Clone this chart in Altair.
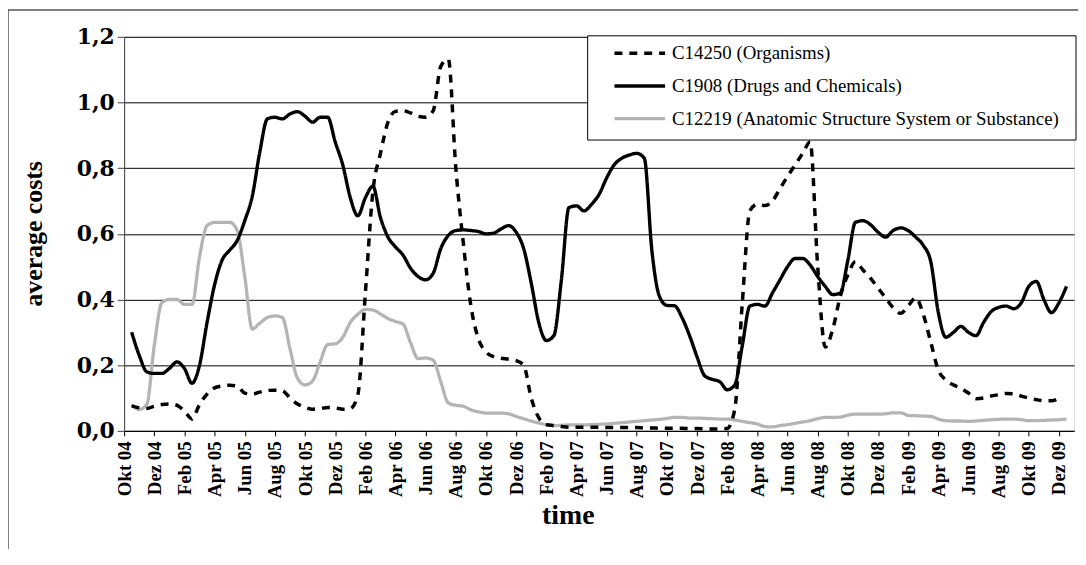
import json
import altair as alt
import pandas as pd

series_names = [
    "C14250 (Organisms)",
    "C1908 (Drugs and Chemicals)",
    "C12219 (Anatomic Structure System or Substance)",
]

tick_labels = [
    "Okt 04", "Dez 04",
    "Feb 05", "Apr 05", "Jun 05", "Aug 05", "Okt 05", "Dez 05",
    "Feb 06", "Apr 06", "Jun 06", "Aug 06", "Okt 06", "Dez 06",
    "Feb 07", "Apr 07", "Jun 07", "Aug 07", "Okt 07", "Dez 07",
    "Feb 08", "Apr 08", "Jun 08", "Aug 08", "Okt 08", "Dez 08",
    "Feb 09", "Apr 09", "Jun 09", "Aug 09", "Okt 09", "Dez 09",
]

# sampling times: half-month steps, in months after Okt 04
months = [0.5 * (i + 1) for i in range(125)]

organisms = [
    0.076, 0.07, 0.068, 0.075, 0.08, 0.082, 0.078, 0.06, 0.036, 0.08,
    0.112, 0.131, 0.137, 0.139, 0.136, 0.115, 0.112, 0.118, 0.123, 0.124,
    0.122, 0.10, 0.082, 0.072, 0.066, 0.068, 0.071, 0.07, 0.066, 0.068,
    0.11, 0.42, 0.73, 0.845, 0.94, 0.973, 0.975, 0.968, 0.958, 0.955,
    0.975, 1.11, 1.132, 0.80, 0.57, 0.38, 0.28, 0.24, 0.226, 0.221,
    0.218, 0.214, 0.20, 0.10, 0.04, 0.019, 0.016, 0.013, 0.011, 0.011,
    0.011, 0.011, 0.011, 0.01, 0.01, 0.01, 0.01, 0.01, 0.009, 0.009,
    0.008, 0.008, 0.008, 0.008, 0.007, 0.007, 0.006, 0.006, 0.006, 0.007,
    0.066, 0.39, 0.67, 0.69, 0.686, 0.70, 0.738, 0.775, 0.81, 0.845,
    0.88, 0.50, 0.255, 0.31, 0.41, 0.475, 0.515, 0.49, 0.465, 0.435,
    0.405, 0.375, 0.358, 0.38, 0.405, 0.355, 0.27, 0.185, 0.155, 0.14,
    0.13, 0.115, 0.098, 0.10, 0.106, 0.11, 0.114, 0.113, 0.106, 0.10,
    0.095, 0.092, 0.092, 0.099, None,
]

drugs = [
    0.30, 0.23, 0.18, 0.175, 0.175, 0.19, 0.21, 0.19, 0.145, 0.20,
    0.33, 0.445, 0.52, 0.55, 0.58, 0.64, 0.715, 0.85, 0.95, 0.955,
    0.95, 0.965, 0.972, 0.958, 0.94, 0.955, 0.955, 0.88, 0.81, 0.71,
    0.655, 0.71, 0.745, 0.65, 0.59, 0.56, 0.535, 0.495, 0.47, 0.46,
    0.48, 0.555, 0.595, 0.61, 0.612, 0.61, 0.607, 0.60, 0.602, 0.615,
    0.625, 0.605, 0.555, 0.45, 0.33, 0.275, 0.29, 0.46, 0.68, 0.685,
    0.67, 0.69, 0.72, 0.77, 0.81, 0.83, 0.84, 0.845, 0.83, 0.55,
    0.41, 0.382, 0.381, 0.345, 0.29, 0.225, 0.168, 0.157, 0.15, 0.125,
    0.14, 0.26, 0.38, 0.385, 0.38, 0.42, 0.46, 0.50, 0.525, 0.525,
    0.505, 0.47, 0.44, 0.415, 0.42, 0.52, 0.635, 0.64, 0.628, 0.605,
    0.59, 0.61, 0.618, 0.61, 0.59, 0.565, 0.515, 0.36, 0.285, 0.30,
    0.318, 0.30, 0.29, 0.33, 0.363, 0.376, 0.38, 0.372, 0.39, 0.44,
    0.455, 0.40, 0.36, 0.39, 0.44,
]

anatomic = [
    0.08, 0.065, 0.08, 0.26, 0.39, 0.40, 0.40, 0.385, 0.385, 0.53,
    0.625, 0.635, 0.635, 0.635, 0.61, 0.47, 0.31, 0.328, 0.345, 0.35,
    0.345, 0.25, 0.16, 0.14, 0.152, 0.21, 0.263, 0.265, 0.285, 0.33,
    0.355, 0.37, 0.368, 0.356, 0.342, 0.333, 0.325, 0.268, 0.22, 0.222,
    0.215, 0.15, 0.085, 0.078, 0.075, 0.064, 0.058, 0.054, 0.054, 0.054,
    0.052, 0.044, 0.037, 0.03, 0.024, 0.019, 0.016, 0.017, 0.018, 0.018,
    0.018, 0.019, 0.02, 0.021, 0.023, 0.025, 0.027, 0.029, 0.031, 0.033,
    0.035, 0.038, 0.041, 0.041, 0.039, 0.039, 0.038, 0.037, 0.036, 0.036,
    0.033, 0.029, 0.025, 0.021, 0.013, 0.012, 0.016, 0.019, 0.023, 0.027,
    0.031, 0.037, 0.041, 0.041, 0.042, 0.048, 0.051, 0.051, 0.051, 0.051,
    0.052, 0.055, 0.055, 0.047, 0.046, 0.045, 0.044, 0.036, 0.031, 0.03,
    0.03, 0.029, 0.03, 0.032, 0.034, 0.035, 0.036, 0.036, 0.034, 0.031,
    0.031, 0.032, 0.033, 0.034, 0.036,
]

y_ticks = [0.0, 0.2, 0.4, 0.6, 0.8, 1.0, 1.2]

rows = []
# drawing order: grey underneath, then solid black, dashed on top
for name, vals in [(series_names[2], anatomic), (series_names[1], drugs), (series_names[0], organisms)]:
    for m, v in zip(months, vals):
        rows.append({"month": m, "cost": v, "series": name})
df = pd.DataFrame(rows)

W, H = 957, 397
SERIF = "Liberation Serif"

x_label_expr = json.dumps(tick_labels) + "[round(datum.value / 2)]"


def make_legend():
    return alt.Legend(
        title=None,
        orient="none",
        legendX=467,
        legendY=0,
        padding=0,
        symbolType="stroke",
        symbolSize=2601,
        symbolOffset=25,
        clipHeight=33,
        rowPadding=0,
        labelOffset=5,
        labelFont=SERIF,
        labelFontSize=19,
        labelFontWeight="normal",
        labelColor="#000000",
        labelLimit=0,
        fillColor="transparent",
        strokeColor="transparent",
    )


lines = alt.Chart(df).mark_line(interpolate="monotone", strokeCap="butt", strokeJoin="round").encode(
    x=alt.X(
        "month:Q",
        scale=alt.Scale(domain=[0, 63], nice=False, zero=False),
        axis=alt.Axis(
            values=list(range(0, 63, 2)),
            labelExpr=x_label_expr,
            labelAngle=270,
            labelFont=SERIF,
            labelFontWeight="bold",
            labelFontSize=19,
            labelColor="#000000",
            labelPadding=5,
            labelOverlap=False,
            tickSize=5,
            tickColor="#000000",
            domainColor="#000000",
            grid=False,
            title="time",
            titleFont=SERIF,
            titleFontWeight="bold",
            titleFontSize=28,
            titleColor="#000000",
            titleX=447,
            titleY=93,
            titleAlign="center",
            titleBaseline="alphabetic",
        ),
    ),
    y=alt.Y(
        "cost:Q",
        scale=alt.Scale(domain=[0, 1.2], nice=False),
        axis=alt.Axis(
            values=y_ticks,
            labelExpr="replace(format(datum.value, '.1f'), '.', ',')",
            labelFont="DejaVu Serif",
            labelFontWeight="bold",
            labelFontSize=22,
            labelColor="#000000",
            labelPadding=3,
            tickSize=7,
            tickColor="#404040",
            domainColor="#404040",
            grid=True,
            gridColor="#000000",
            gridWidth=1,
            title="average costs",
            titleFont=SERIF,
            titleFontWeight="bold",
            titleFontSize=26,
            titleColor="#000000",
            titleAngle=270,
            titleX=-83,
            titleY=198,
            titleAlign="center",
            titleBaseline="alphabetic",
        ),
    ),
    color=alt.Color(
        "series:N",
        scale=alt.Scale(domain=series_names, range=["#000000", "#000000", "#b4b4b4"]),
        legend=make_legend(),
    ),
    strokeDash=alt.StrokeDash(
        "series:N",
        scale=alt.Scale(domain=series_names, range=[[8, 7], [1, 0], [1, 0]]),
        legend=make_legend(),
    ),
    strokeWidth=alt.StrokeWidth(
        "series:N",
        scale=alt.Scale(domain=series_names, range=[3.5, 3.3, 4.5]),
        legend=make_legend(),
    ),
)

box_df = pd.DataFrame({"k": [0]})
legend_box = alt.Chart(box_df).mark_rect(fill="#ffffff", stroke="#000000", strokeWidth=1).encode(
    x=alt.value(467), x2=alt.value(959), y=alt.value(-1), y2=alt.value(104)
)
outer_frame = alt.Chart(box_df).mark_rect(fill=None, stroke="#000000", strokeWidth=1).encode(
    x=alt.value(-117), x2=alt.value(975), y=alt.value(-27), y2=alt.value(560)
)

chart = alt.layer(outer_frame, lines, legend_box).properties(
    width=W,
    height=H,
    autosize=alt.AutoSizeParams(type="none"),
    padding={"left": 117, "top": 27, "right": 4, "bottom": 117},
).configure_view(
    stroke="#999999", strokeWidth=1
).configure(background="#ffffff")

chart.save("out.html", embed_options={"renderer": "svg", "actions": False})
